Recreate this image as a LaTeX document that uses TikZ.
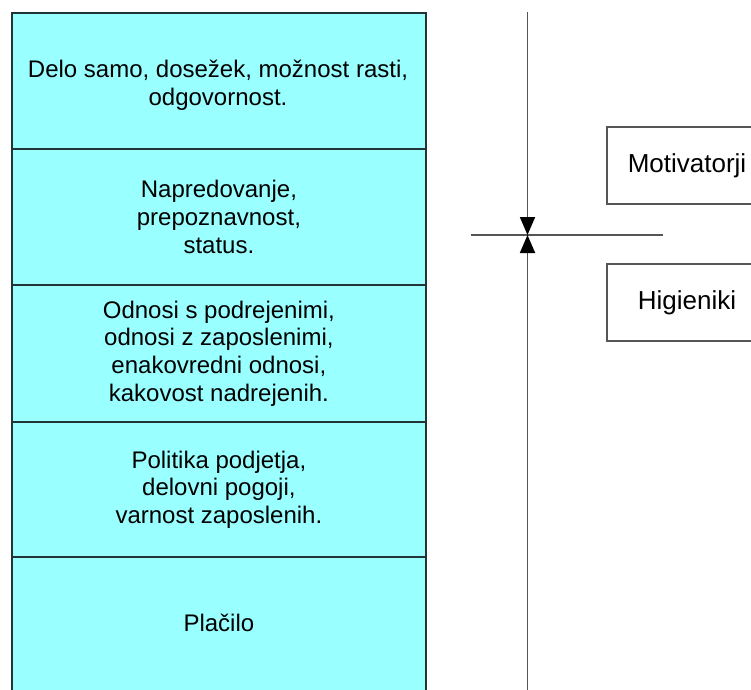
\documentclass[tikz,border=0pt]{standalone}
\usepackage{fontspec}
\setmainfont{Liberation Sans}
\usetikzlibrary{arrows.meta}
\definecolor{tierfill}{RGB}{153,255,255}
\definecolor{tierline}{RGB}{35,52,55}
\definecolor{axisgray}{RGB}{85,85,85}
\begin{document}
\begin{tikzpicture}[x=1pt,y=-1pt,
  tiertext/.style={inner sep=0pt, align=center, font=\fontsize{24}{27.6}\selectfont},
  tier/.style={draw=tierline, line width=1.8pt, fill=tierfill, minimum width=414pt,
    anchor=north west, tiertext},
  tagbox/.style={draw=axisgray, line width=1.6pt, fill=white, minimum width=160pt,
    minimum height=77pt, inner sep=0pt, font=\fontsize{26}{30}\selectfont},
  axis/.style={draw=axisgray, line width=1.8pt},
  meet/.style={-{Triangle[length=18pt,width=15pt,black]}}]
  \useasboundingbox (0,0) rectangle (751,689);
  \clip (0,0) rectangle (751,689);

  % the five levels of factors
  \node[tier, minimum height=136pt] (t1) at (11,12) {};
  \node[tiertext] (t1text) at (218,85)
    {Delo samo, dosežek, možnost rasti,\\odgovornost.};
  \node[tier, minimum height=136pt] (t2) at (11,148)
    {Napredovanje,\\prepoznavnost,\\status.};
  \node[tier, minimum height=137pt] (t3) at (11,284)
    {Odnosi s podrejenimi,\\odnosi z zaposlenimi,\\enakovredni odnosi,\\kakovost nadrejenih.};
  \node[tier, minimum height=135pt] (t4) at (11,421)
    {Politika podjetja,\\delovni pogoji,\\varnost zaposlenih.};
  \node[tier, minimum height=150pt] (t5) at (11,556)
    {Plačilo\\[-10pt]};

  % dividing axis
  \coordinate (top) at (527.5,12);
  \coordinate (mid) at (527.5,235);
  \coordinate (bot) at (527.5,700);
  \coordinate (hl) at (471,235);
  \coordinate (hr) at (663,235);
  \draw[axis] (hl) -- (hr);
  \draw[axis, meet] (top) -- (mid);
  \draw[axis, meet] (bot) -- (mid);

  % group labels
  \node[tagbox] (mot) at (687,165.5) {Motivatorji};
  \node[tagbox] (hig) at (687,302.5) {Higieniki};
\end{tikzpicture}
\end{document}
